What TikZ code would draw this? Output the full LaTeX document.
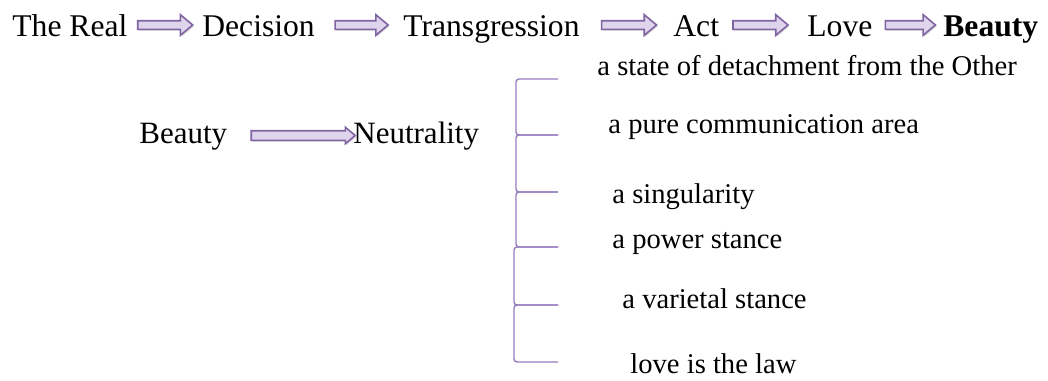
\documentclass[tikz,border=0pt]{standalone}
\usepackage{fontspec}
\setmainfont{Liberation Serif}
\usetikzlibrary{shapes.arrows,shadows}
\definecolor{ArrowLine}{RGB}{128,100,162}
\definecolor{ArrowFill}{RGB}{222,212,236}
\definecolor{BraceLine}{RGB}{150,125,190}

\begin{document}
\begin{tikzpicture}[
  x=0.5pt,y=-0.5pt,
  chain/.style={anchor=base west,inner sep=0pt,text height=11pt,text depth=0pt,
                font=\fontsize{15.8}{19}\selectfont},
  sub/.style={anchor=base west,inner sep=0pt,text height=7.5pt,text depth=0pt,
              font=\fontsize{15.5}{19}\selectfont},
  item/.style={anchor=base west,inner sep=0pt,font=\fontsize{14.3}{17}\selectfont},
  barrow/.style={single arrow,draw=ArrowLine,fill=ArrowFill,line width=0.8pt,
                 inner xsep=0pt,inner ysep=1.75pt,minimum width=10pt,
                 single arrow head extend=3pt,single arrow tip angle=80,
                 drop shadow={opacity=0.25,shadow xshift=0.6pt,shadow yshift=-0.8pt}},
  brace/.style={draw=BraceLine,line width=0.7pt,rounded corners=1.5pt},
]
\useasboundingbox (0,0) rectangle (1048,380);

\node[chain] (real) at (12,36) {The Real};
\node[chain] (decision) at (202,36) {Decision};
\node[chain] (transgression) at (403,36) {Transgression};
\node[chain] (act) at (673,36) {Act};
\node[chain] (love) at (807,36) {Love};
\node[chain,font=\fontsize{15.8}{19}\selectfont\bfseries] (beauty) at (943,36) {Beauty};

\path (real.east) -- node[pos=0.47,barrow,minimum height=27.5pt] {} (decision.west);
\path (decision.east) -- node[barrow,minimum height=26.5pt] {} (transgression.west);
\path (transgression.east) -- node[barrow,minimum height=27.5pt] {} (act.west);
\path (act.east) -- node[pos=0.44,barrow,minimum height=27.5pt] {} (love.west);
\path (love.east) -- node[barrow,minimum height=25pt] {} (beauty.west);

\node[sub] (beautyb) at (139,143) {Beauty};
\node[sub] (neutral) at (353,143) {Neutrality};
\path (beautyb.east) -- node[pos=0.58,barrow,minimum height=52pt,minimum width=7.5pt,
  inner ysep=2pt,single arrow head extend=1.75pt] {} (neutral.west);

\foreach \ya/\yb/\xb in {79/135/516,135/192/516,192/247/516,247/305/514,305/362/514}
  \draw[brace] (558,\ya) -- (\xb,\ya) -- (\xb,\yb) -- (558,\yb);

\node[item] (detach) at (597,75) {a state of detachment from the Other};
\node[item] (commun) at (608,133) {a pure communication area};
\node[item] (singular) at (612,203) {a singularity};
\node[item] (power) at (612,248) {a power stance};
\node[item] (varietal) at (622,308) {a varietal stance};
\node[item] (law) at (630,373) {love is the law};
\end{tikzpicture}
\end{document}
